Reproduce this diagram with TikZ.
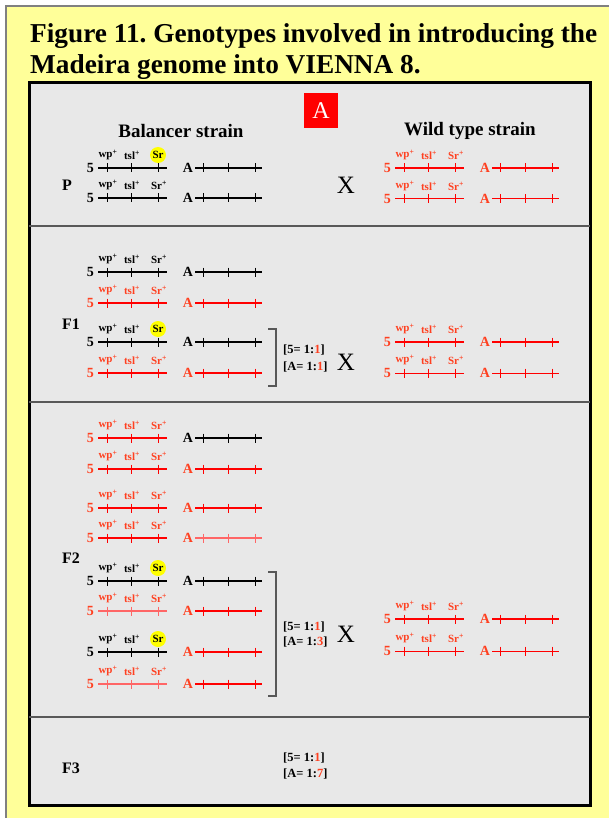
\documentclass[tikz,border=0pt]{standalone}
\usepackage{fontspec}
\setmainfont{Liberation Serif}
\frenchspacing
\definecolor{paper}{HTML}{FFFF99}
\definecolor{panelgray}{HTML}{E8E8E8}
\definecolor{wtline}{HTML}{FF0000}
\definecolor{wttext}{HTML}{FF4020}
\definecolor{rulegray}{HTML}{585858}
\definecolor{srdot}{HTML}{FFFF00}

\tikzset{
  genelbl/.style={inner sep=0pt, font=\bfseries\fontsize{11}{11}\selectfont},
  chrlbl/.style={inner sep=0pt, font=\bfseries\fontsize{14}{14}\selectfont},
  genlbl/.style={inner sep=0pt, font=\bfseries\fontsize{16}{16}\selectfont},
  headlbl/.style={inner sep=0pt, font=\bfseries\fontsize{19}{19}\selectfont},
  ratiolbl/.style={inner sep=0pt, anchor=west, font=\bfseries\fontsize{12.5}{12.5}\selectfont},
  crosslbl/.style={inner sep=0pt, font=\fontsize{25}{25}\selectfont},
  bracketline/.style={draw=rulegray, line width=1.2pt},
  divider/.style={draw=rulegray, line width=1.2pt},
}

% chromosome 5: name, x0, y, line colour, text colour, line width
\newcommand{\chrfive}[6]{%
  \node[chrlbl, text=#5, anchor=east] (#1-n) at (#2-4,#3) {5};
  \draw[#4, line width=#6] (#2,#3) coordinate (#1-s) -- (#2+69,#3) coordinate (#1-e);
  \foreach \t in {9,33,60} \draw[#4, line width=1pt] (#2+\t,#3-4.5) -- (#2+\t,#3+4.5);
  \node[genelbl, text=#5] (#1-wp) at (#2+10,#3-13) {wp\textsuperscript{+}};
  \node[genelbl, text=#5] (#1-tsl) at (#2+34,#3-13) {tsl\textsuperscript{+}};
}
% wild-type Sr allele label
\newcommand{\srplus}[4]{%
  \node[genelbl, text=#4] (#1-sr) at (#2+61,#3-13) {Sr\textsuperscript{+}};
}
% mutant Sr allele marked by a yellow disc
\newcommand{\srmut}[3]{%
  \node[genelbl, circle, fill=srdot, minimum size=16pt, inner sep=0pt] (#1-sr) at (#2+60,#3-13) {Sr};
}
% chromosome A: name, x0, y, line colour, text colour, line width
\newcommand{\chra}[6]{%
  \node[chrlbl, text=#5] (#1-n) at (#2+90,#3) {A};
  \draw[#4, line width=#6] (#2+97,#3) coordinate (#1-s) -- (#2+164,#3) coordinate (#1-e);
  \foreach \t in {105,130,157} \draw[#4, line width=1pt] (#2+\t,#3-4.5) -- (#2+\t,#3+4.5);
}

\begin{document}
\begin{tikzpicture}[x=1pt,y=-1pt]
\useasboundingbox (0,0) rectangle (609,818);
\fill[white] (0,0) rectangle (609,818);
% yellow sheet
\draw[draw=gray, line width=1.5pt, fill=paper] (6,6) rectangle (640,840);

% title
\node[anchor=west, inner sep=0pt, font=\bfseries\fontsize{27.3}{27.3}\selectfont] (title1) at (30,36) {Figure 11. Genotypes involved in introducing the};
\node[anchor=west, inner sep=0pt, font=\bfseries\fontsize{27.3}{27.3}\selectfont] (title2) at (30,67) {Madeira genome into VIENNA 8.};

% grey panel with generation rows
\draw[fill=panelgray, line width=3pt] (29,83) rectangle (590,805);
\draw[divider] (29,226) -- (590,226);
\draw[divider] (29,402) -- (590,402);
\draw[divider] (29,717) -- (590,717);

\node[fill=red, text=white, minimum width=34pt, minimum height=35pt, inner sep=0pt,
      font=\fontsize{24}{24}\selectfont] (tag) at (321,110.5) {A};

\node[headlbl] (hbal) at (181,131) {Balancer strain};
\node[headlbl] (hwt) at (470,131) {Wild type strain};

% ---------- P ----------
\node[genlbl] (gP) at (67,185) {P};
\chrfive{p1}{98}{168}{black}{black}{1.2pt} \srmut{p1}{98}{168} \chra{p1a}{98}{168}{black}{black}{1.2pt}
\chrfive{p2}{98}{198}{black}{black}{1.2pt} \srplus{p2}{98}{198}{black} \chra{p2a}{98}{198}{black}{black}{1.2pt}
\node[crosslbl] (xP) at (346,185) {X};
\chrfive{pw1}{395}{168}{wtline}{wttext}{1.8pt} \srplus{pw1}{395}{168}{wttext} \chra{pw1a}{395}{168}{wtline}{wttext}{1.8pt}
\chrfive{pw2}{395}{199}{wtline}{wttext}{1pt} \srplus{pw2}{395}{199}{wttext} \chra{pw2a}{395}{199}{wtline}{wttext}{1pt}

% ---------- F1 ----------
\node[genlbl] (gF1) at (71,324) {F1};
\chrfive{f1}{98}{272}{black}{black}{1.2pt} \srplus{f1}{98}{272}{black} \chra{f1a}{98}{272}{black}{black}{1.2pt}
\chrfive{f2}{98}{303}{wtline}{wttext}{1.2pt} \srplus{f2}{98}{303}{wttext} \chra{f2a}{98}{303}{wtline}{wttext}{1.2pt}
\chrfive{f3}{98}{342}{black}{black}{1.4pt} \srmut{f3}{98}{342} \chra{f3a}{98}{342}{black}{black}{1.4pt}
\chrfive{f4}{98}{373}{wtline}{wttext}{1.2pt} \srplus{f4}{98}{373}{wttext} \chra{f4a}{98}{373}{wtline}{wttext}{1.2pt}
\draw[bracketline] (268,329) coordinate (b1t) -- (276,329) -- (276,386) -- (268,386) coordinate (b1b);
\node[ratiolbl] (r1a) at (283,350) {[5= 1:\textcolor{wttext}{1}]};
\node[ratiolbl] (r1b) at (283,367) {[A= 1:\textcolor{wttext}{1}]};
\node[crosslbl] (xF1) at (346,362) {X};
\chrfive{fw1}{395}{342}{wtline}{wttext}{1.8pt} \srplus{fw1}{395}{342}{wttext} \chra{fw1a}{395}{342}{wtline}{wttext}{1.8pt}
\chrfive{fw2}{395}{373}{wtline}{wttext}{1pt} \srplus{fw2}{395}{373}{wttext} \chra{fw2a}{395}{373}{wtline}{wttext}{1pt}

% ---------- F2 ----------
\chrfive{s1}{98}{438}{wtline}{wttext}{1.8pt} \srplus{s1}{98}{438}{wttext} \chra{s1a}{98}{438}{black}{black}{1.6pt}
\chrfive{s2}{98}{469}{wtline}{wttext}{1.2pt} \srplus{s2}{98}{469}{wttext} \chra{s2a}{98}{469}{wtline}{wttext}{1.2pt}
\chrfive{s3}{98}{508}{wtline}{wttext}{1.8pt} \srplus{s3}{98}{508}{wttext} \chra{s3a}{98}{508}{wtline}{wttext}{1.8pt}
\chrfive{s4}{98}{538}{wtline}{wttext}{1.2pt} \srplus{s4}{98}{538}{wttext} \chra{s4a}{98}{538}{wtline!60}{wttext}{1.8pt}
\node[genlbl] (gF2) at (71,558) {F2};
\chrfive{s5}{98}{581}{black}{black}{1.4pt} \srmut{s5}{98}{581} \chra{s5a}{98}{581}{black}{black}{1.4pt}
\chrfive{s6}{98}{611}{wtline!60}{wttext}{1.8pt} \srplus{s6}{98}{611}{wttext} \chra{s6a}{98}{611}{wtline}{wttext}{1.2pt}
\chrfive{s7}{98}{652}{black}{black}{1.4pt} \srmut{s7}{98}{652} \chra{s7a}{98}{652}{wtline}{wttext}{1.4pt}
\chrfive{s8}{98}{684}{wtline!60}{wttext}{1.8pt} \srplus{s8}{98}{684}{wttext} \chra{s8a}{98}{684}{wtline}{wttext}{1.2pt}
\draw[bracketline] (268,572) coordinate (b2t) -- (276,572) -- (276,696) -- (268,696) coordinate (b2b);
\node[ratiolbl] (r2a) at (283,627) {[5= 1:\textcolor{wttext}{1}]};
\node[ratiolbl] (r2b) at (283,642) {[A= 1:\textcolor{wttext}{3}]};
\node[crosslbl] (xF2) at (346,634) {X};
\chrfive{sw1}{395}{619}{wtline}{wttext}{1.8pt} \srplus{sw1}{395}{619}{wttext} \chra{sw1a}{395}{619}{wtline}{wttext}{1.8pt}
\chrfive{sw2}{395}{651}{wtline}{wttext}{1pt} \srplus{sw2}{395}{651}{wttext} \chra{sw2a}{395}{651}{wtline}{wttext}{1pt}

% ---------- F3 ----------
\node[genlbl] (gF3) at (71,768) {F3};
\node[ratiolbl] (r3a) at (283,758) {[5= 1:\textcolor{wttext}{1}]};
\node[ratiolbl] (r3b) at (283,774) {[A= 1:\textcolor{wttext}{7}]};
\end{tikzpicture}
\end{document}
